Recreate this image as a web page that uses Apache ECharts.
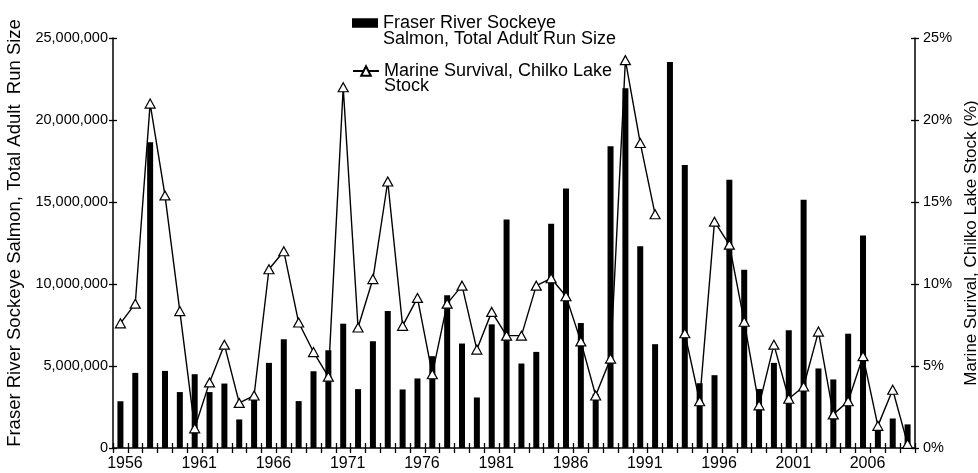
<!DOCTYPE html>
<html>
<head>
<meta charset="utf-8">
<script src="https://cdn.jsdelivr.net/npm/echarts@6/dist/echarts.min.js"></script>
<style>
  html, body { margin: 0; padding: 0; background: #fff; }
  #chart { width: 978px; height: 473px; }
</style>
</head>
<body>
<div id="chart"></div>
<script>
// Return years of the Fraser River sockeye run
const years = [
  '1956','1957','1958','1959','1960','1961','1962','1963','1964','1965',
  '1966','1967','1968','1969','1970','1971','1972','1973','1974','1975',
  '1976','1977','1978','1979','1980','1981','1982','1983','1984','1985',
  '1986','1987','1988','1989','1990','1991','1992','1993','1994','1995',
  '1996','1997','1998','1999','2000','2001','2002','2003','2004','2005',
  '2006','2007','2008','2009'
];

// Total adult run size (fish)
const runSize = [
  2850000, 4580000, 18650000, 4700000, 3410000, 4500000, 3410000, 3930000, 1740000, 3100000,
  5190000, 6630000, 2860000, 4680000, 5960000, 7580000, 3590000, 6510000, 8350000, 3570000,
  4240000, 5600000, 9310000, 6370000, 3080000, 7540000, 13930000, 5150000, 5860000, 13670000,
  15830000, 7620000, 3300000, 18400000, 21940000, 12300000, 6330000, 23540000, 17250000, 3950000,
  4440000, 16360000, 10870000, 3600000, 5190000, 7180000, 15130000, 4850000, 4180000, 6970000,
  12960000, 1200000, 1800000, 1440000
];

// Chilko Lake stock marine survival (%), no estimate for 1993
const survival = [
  7.6, 8.8, 21.0, 15.4, 8.35, 1.2, 4.0, 6.3, 2.75, 3.2,
  10.9, 12.0, 7.65, 5.85, 4.35, 22.0, 7.35, 10.3, 16.25, 7.45,
  9.15, 4.5, 8.8, 9.9, 6.0, 8.3, 6.85, 6.85, 9.9, 10.35,
  9.25, 6.5, 3.2, 5.45, 23.65, 18.6, 14.25, null, 7.0, 2.85,
  13.8, 12.4, 7.7, 2.6, 6.3, 3.0, 3.75, 7.1, 2.05, 2.85,
  5.6, 1.35, 3.55, 0.25
];

const runTicks = [0, 5000000, 10000000, 15000000, 20000000, 25000000];
const survivalTicks = [0, 5, 10, 15, 20, 25];

const runName = 'Fraser River Sockeye Salmon, Total Adult Run Size';
const survivalName = 'Marine Survival, Chilko Lake Stock';
// the leading blank line centres the first text line on the legend icon
const legendText = {};
legendText[runName] = '\nFraser River Sockeye\nSalmon, Total Adult Run Size';
legendText[survivalName] = '\nMarine Survival, Chilko Lake\nStock';

const leftTitle = 'Fraser River Sockeye Salmon, Total Adult  Run Size';
const rightTitle = 'Marine Surival, Chilko Lake Stock (%)';

const FONT = '"Liberation Sans", Arial, Helvetica, sans-serif';
const INK = '#000';

const runMax = runTicks[runTicks.length - 1];
const runStep = runTicks[1] - runTicks[0];
const survMax = survivalTicks[survivalTicks.length - 1];
const survStep = survivalTicks[1] - survivalTicks[0];

function fmtThousands(v) {
  return String(v).replace(/\B(?=(\d{3})+(?!\d))/g, ',');
}

const legendTextStyle = {
  fontFamily: FONT,
  fontSize: 18,
  lineHeight: 16,
  color: INK
};

const chart = echarts.init(document.getElementById('chart'), null, { renderer: 'canvas' });

chart.setOption({
  animation: false,
  backgroundColor: '#fff',
  textStyle: { fontFamily: FONT, color: INK },
  grid: { left: 113, right: 63, top: 38, bottom: 25, containLabel: false, outerBoundsMode: 'none' },
  legend: [
    {
      data: [{ name: runName, icon: 'rect' }],
      left: 352, top: -2, padding: 0,
      itemWidth: 26, itemHeight: 9.5,
      selectedMode: false,
      formatter: n => legendText[n],
      textStyle: legendTextStyle
    },
    {
      data: [survivalName],
      left: 352, top: 47, padding: 0,
      itemWidth: 26, itemHeight: 12,
      selectedMode: false,
      formatter: n => legendText[n],
      textStyle: Object.assign({}, legendTextStyle, { lineHeight: 15 })
    }
  ],
  xAxis: [
    {
      type: 'category',
      data: years,
      position: 'bottom',
      boundaryGap: true,
      axisLine: { show: true, lineStyle: { color: INK, width: 1.5 } },
      axisTick: { show: true, interval: 0, length: 5, inside: false, lineStyle: { color: INK, width: 1.3 } },
      axisLabel: {
        interval: 4, margin: 8, fontSize: 16, color: INK, fontFamily: FONT,
        padding: [0, 0, 0, 9]
      },
      splitLine: { show: false }
    },
    {
      // upper half of the crossing ticks
      type: 'category',
      data: years,
      position: 'bottom',
      boundaryGap: true,
      axisLine: { show: false },
      axisTick: { show: true, interval: 0, length: 5, inside: true, lineStyle: { color: INK, width: 1.3 } },
      axisLabel: { show: false },
      splitLine: { show: false }
    }
  ],
  yAxis: [
    {
      type: 'value',
      position: 'left',
      min: 0, max: runMax, interval: runStep,
      name: leftTitle,
      nameLocation: 'middle',
      nameRotate: 90,
      nameGap: 88,
      nameTextStyle: { fontSize: 18.5, color: INK, fontFamily: FONT, padding: [0, 0, 0, 20] },
      axisLine: { show: true, lineStyle: { color: INK, width: 1.5 } },
      axisTick: { show: true, length: 4, inside: false, lineStyle: { color: INK, width: 1.3 } },
      axisLabel: { margin: 5, fontSize: 14.5, color: INK, fontFamily: FONT, formatter: fmtThousands },
      splitLine: { show: false }
    },
    {
      type: 'value',
      position: 'right',
      min: 0, max: survMax, interval: survStep,
      name: rightTitle,
      nameLocation: 'middle',
      nameRotate: 90,
      nameGap: 48,
      nameTextStyle: { fontSize: 17, color: INK, fontFamily: FONT },
      axisLine: { show: true, lineStyle: { color: INK, width: 1.5 } },
      axisTick: { show: true, length: 4, inside: false, lineStyle: { color: INK, width: 1.3 } },
      axisLabel: { margin: 8, fontSize: 14.5, color: INK, fontFamily: FONT, formatter: v => v + '%' },
      splitLine: { show: false }
    },
    {
      // inner half of the left crossing ticks
      type: 'value',
      position: 'left',
      min: 0, max: runMax, interval: runStep,
      axisLine: { show: false },
      axisTick: { show: true, length: 4, inside: true, lineStyle: { color: INK, width: 1.3 } },
      axisLabel: { show: false },
      splitLine: { show: false }
    },
    {
      // inner half of the right crossing ticks
      type: 'value',
      position: 'right',
      min: 0, max: survMax, interval: survStep,
      axisLine: { show: false },
      axisTick: { show: true, length: 4, inside: true, lineStyle: { color: INK, width: 1.3 } },
      axisLabel: { show: false },
      splitLine: { show: false }
    }
  ],
  series: [
    {
      name: runName,
      type: 'bar',
      xAxisIndex: 0,
      yAxisIndex: 0,
      data: runSize,
      barWidth: 6,
      itemStyle: { color: INK },
      z: 2
    },
    {
      name: survivalName,
      type: 'line',
      xAxisIndex: 0,
      yAxisIndex: 1,
      data: survival,
      connectNulls: false,
      symbol: 'triangle',
      symbolSize: [10, 9],
      showAllSymbol: true,
      lineStyle: { color: INK, width: 1.4 },
      itemStyle: { color: '#fff', borderColor: INK, borderWidth: 1.2 },
      z: 3
    }
  ]
});
</script>
</body>
</html>
